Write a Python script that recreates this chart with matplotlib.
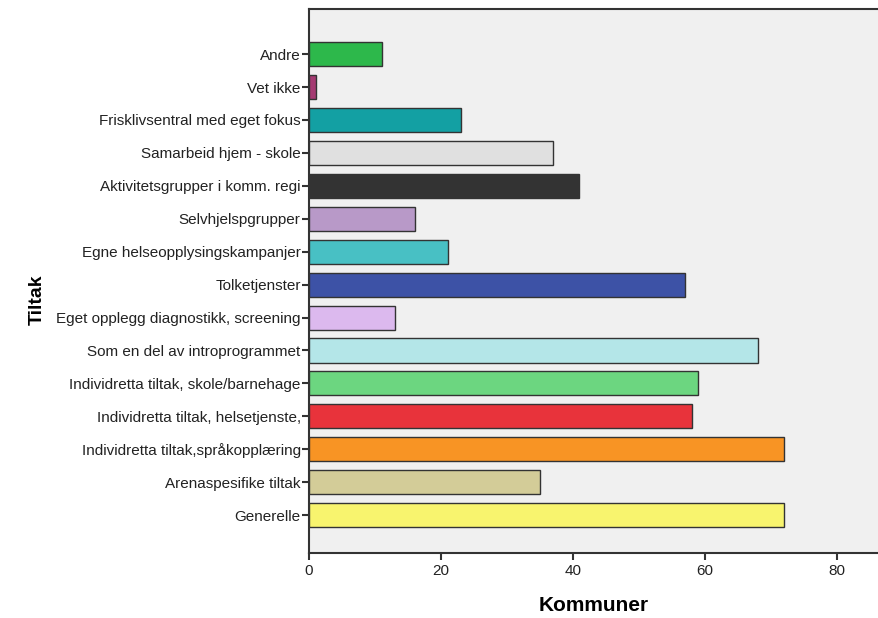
import matplotlib
matplotlib.use("Agg")
import matplotlib.pyplot as plt

categories = [
    "Andre",
    "Vet ikke",
    "Frisklivsentral med eget fokus",
    "Samarbeid hjem - skole",
    "Aktivitetsgrupper i komm. regi",
    "Selvhjelspgrupper",
    "Egne helseopplysingskampanjer",
    "Tolketjenster",
    "Eget opplegg diagnostikk, screening",
    "Som en del av introprogrammet",
    "Individretta tiltak, skole/barnehage",
    "Individretta tiltak, helsetjenste,",
    "Individretta tiltak,språkopplæring",
    "Arenaspesifike tiltak",
    "Generelle",
]
values = [11, 1, 23, 37, 41, 16, 21, 57, 13, 68, 59, 58, 72, 35, 72]
colors = [
    "#2db84b", "#a53a72", "#13a0a3", "#e0e0e0", "#333333",
    "#b899c8", "#48c0c4", "#3d52a6", "#dcb9ee", "#b4e6e8",
    "#6cd680", "#e8333b", "#f89424", "#d3cc98", "#f8f46e",
]
xticks = [0, 20, 40, 60, 80]

plt.rcParams['font.family'] = ['Liberation Sans', 'DejaVu Sans']

fig = plt.figure(figsize=(8.79, 6.18), dpi=100)
ax = fig.add_axes([309/879, 1-553/618, 1-309/879, (553-9)/618])
ax.set_facecolor("#f0f0f0")

n = len(categories)
ypos = [n - 1 - i for i in range(n)]
ax.barh(ypos, values, height=0.73, color=colors, edgecolor="#333333", linewidth=1.0, zorder=3)

ax.set_yticks(ypos)
ax.set_yticklabels(categories, fontsize=11, color="#222222")
ax.set_xticks(xticks)
ax.set_xticklabels([str(t) for t in xticks], fontsize=11, color="#222222")
ax.set_xlim(0, 86.4)
ax.set_ylim(-1.15, n - 1 + 1.37)

for s in ["left", "bottom", "top"]:
    ax.spines[s].set_color("#333333")
    ax.spines[s].set_linewidth(1.5)
ax.spines["right"].set_visible(False)
ax.tick_params(axis="both", direction="out", length=5, width=1.5, color="#333333")
ax.tick_params(axis="y", pad=1)
ax.tick_params(axis="x", pad=3)

ax.set_xlabel("Kommuner", fontsize=15, fontweight="bold", labelpad=13)
fig.text(37/879, 1-300/618, "Tiltak", rotation=90, fontsize=14, fontweight="bold",
         ha="center", va="center")

fig.savefig("out.png", dpi=100, facecolor="white")
